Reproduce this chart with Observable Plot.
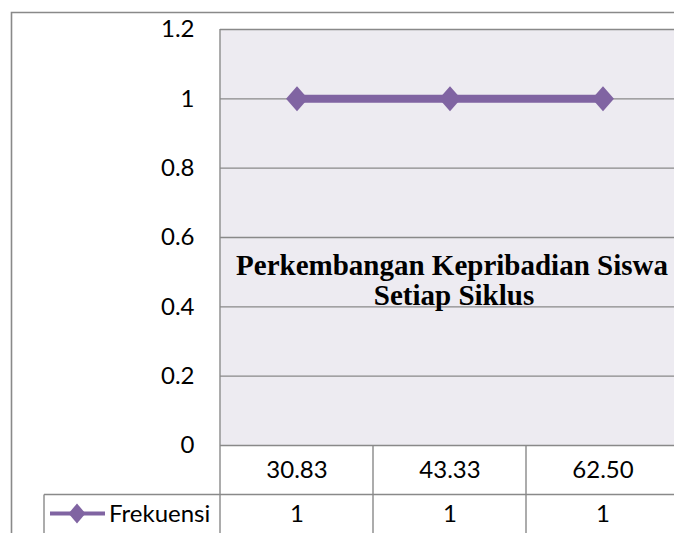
<!DOCTYPE html>
<html>
<head>
<meta charset="utf-8">
<script src="https://cdn.jsdelivr.net/npm/d3@7"></script>
<script src="https://cdn.jsdelivr.net/npm/@observablehq/plot@0.6"></script>
<style>
  html, body { margin: 0; padding: 0; background: #fff; overflow: hidden; }
  svg { display: block; }
</style>
</head>
<body>
<div id="chart"></div>
<script>
const categories = ["30.83", "43.33", "62.50"];
const frekuensi = [1, 1, 1];
const yTicks = [0, 0.2, 0.4, 0.6, 0.8, 1, 1.2];
const seriesName = "Frekuensi";
const titleLines = ["Perkembangan Kepribadian Siswa", "Setiap Siklus"];

const data = categories.map((c, i) => ({cat: c, val: frekuensi[i]}));

const purple = "#8064A2";
const gridColor = "#898989";

const diamond = {
  draw(ctx) {
    ctx.moveTo(0, -12.5);
    ctx.lineTo(11, 0);
    ctx.lineTo(0, 12.5);
    ctx.lineTo(-11, 0);
    ctx.closePath();
  }
};

const plot = Plot.plot({
  width: 674,
  height: 533,
  marginLeft: 220,
  marginRight: 0,
  marginTop: 29,
  marginBottom: 88,
  style: {fontFamily: "Lato, sans-serif", fontSize: "24px", background: "transparent", overflow: "visible"},
  x: {type: "band", domain: categories, range: [220, 679], padding: 0, axis: null},
  y: {domain: [0, 1.2], axis: null},
  marks: [
    Plot.frame({fill: "#EDEBF1", stroke: null}),
    Plot.ruleY(yTicks, {stroke: gridColor, strokeWidth: 1.4}),
    Plot.axisY(yTicks, {tickSize: 0, tickPadding: 26, tickFormat: d => String(d), fontSize: 24, fill: "#000", label: null}),
    Plot.line(data, {x: "cat", y: "val", stroke: purple, strokeWidth: 8}),
    Plot.dot(data, {x: "cat", y: "val", symbol: diamond, fill: purple, stroke: null}),
    Plot.text(categories, {x: d => d, text: d => d, frameAnchor: "bottom", lineAnchor: "middle", dy: 25, fill: "#000", fontSize: 24}),
    Plot.text(data, {x: "cat", text: d => String(d.val), frameAnchor: "bottom", lineAnchor: "middle", dy: 69, fill: "#000", fontSize: 24})
  ]
});

document.getElementById("chart").appendChild(plot);

const svg = d3.select(plot);
const xs = plot.scale("x");
const bw = xs.bandwidth;
const ys = plot.scale("y");
const yTop = ys.apply(1.2);
const yBottom = ys.apply(0);
const row2 = 494.5;
const g = svg.append("g").attr("stroke", gridColor).attr("stroke-width", 1.4).attr("fill", "none");

// outer chart border
g.append("path").attr("d", `M11.5,533 V12.5 H674`).attr("stroke-width", 1.6);
// plot left border extends into table
const x0 = xs.apply(categories[0]);
g.append("line").attr("x1", x0).attr("x2", x0).attr("y1", yTop).attr("y2", 533);
// table column separators
categories.forEach(c => {
  const xe = xs.apply(c) + bw;
  g.append("line").attr("x1", xe).attr("x2", xe).attr("y1", yBottom).attr("y2", 533);
});
// table row separator & legend cell
g.append("line").attr("x1", 44).attr("x2", 674).attr("y1", row2).attr("y2", row2);
g.append("line").attr("x1", 44).attr("x2", 44).attr("y1", row2).attr("y2", 533);

// legend key
const lg = svg.append("g");
lg.append("line").attr("x1", 50).attr("x2", 105).attr("y1", 513.5).attr("y2", 513.5)
  .attr("stroke", purple).attr("stroke-width", 4);
lg.append("path").attr("d", "M77,503.5 L85.5,513.5 L77,523.5 L68.5,513.5 Z").attr("fill", purple);
lg.append("text").attr("x", 109).attr("y", 513.5).attr("dy", "0.35em").attr("text-anchor", "start")
  .attr("font-family", "Lato, sans-serif").attr("font-size", 24).attr("fill", "#000").text(seriesName);

// title
const tg = svg.append("g").attr("font-family", "'Liberation Serif', 'Times New Roman', serif")
  .attr("font-weight", "bold").attr("font-size", 29).attr("text-anchor", "middle").attr("fill", "#000");
tg.append("text").attr("x", 452).attr("y", 275).text(titleLines[0]);
tg.append("text").attr("x", 454).attr("y", 305).text(titleLines[1]);
</script>
</body>
</html>
